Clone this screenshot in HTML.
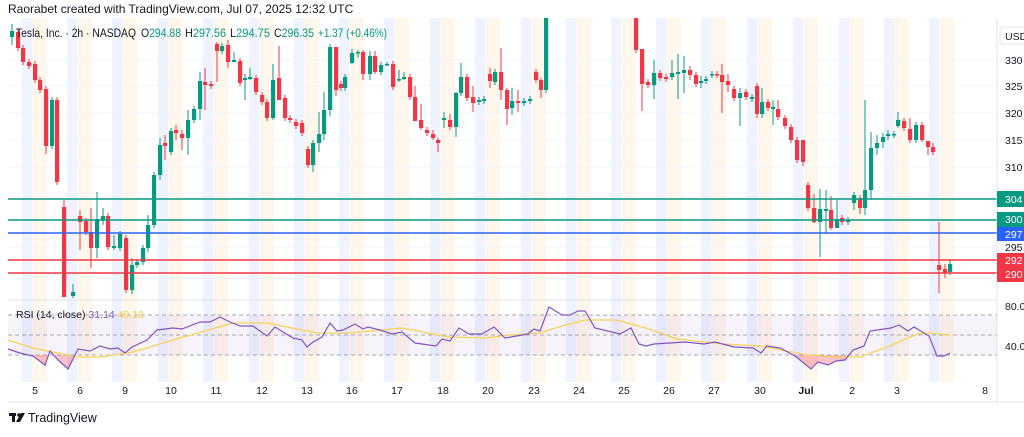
<!DOCTYPE html>
<html><head><meta charset="utf-8">
<style>
html,body{margin:0;padding:0;background:#fff;}
body{width:1024px;height:432px;overflow:hidden;font-family:"Liberation Sans",sans-serif;}
svg text{font-family:"Liberation Sans",sans-serif;}
</style></head>
<body>
<svg id="s" width="1024" height="432" viewBox="0 0 1024 432" xmlns="http://www.w3.org/2000/svg">
<rect width="1024" height="432" fill="#fff"/>
<g id="bands"></g>
<g id="grid" stroke="#f3f5fa" stroke-width="1"></g>
<rect x="8" y="315" width="989" height="40" fill="#7e57c2" opacity="0.07"/>
<g stroke="#9598a1" stroke-dasharray="4,3" stroke-width="1" opacity="0.8">
<line x1="8" y1="315" x2="997" y2="315"/><line x1="8" y1="335" x2="997" y2="335"/><line x1="8" y1="355" x2="997" y2="355"/>
</g>
<defs>
<clipPath id="pane"><rect x="8" y="18" width="989" height="282"/></clipPath>
<clipPath id="below"><rect x="0" y="355" width="1000" height="40"/></clipPath>
</defs>
<g id="candles" clip-path="url(#pane)"></g>
<g stroke-width="1.6">
<line x1="8" y1="199" x2="997" y2="199" stroke="#089981"/>
<line x1="8" y1="220" x2="997" y2="220" stroke="#089981"/>
<line x1="8" y1="233" x2="997" y2="233" stroke="#2962ff"/>
<line x1="8" y1="260" x2="997" y2="260" stroke="#f23645"/>
<line x1="8" y1="273" x2="997" y2="273" stroke="#f23645"/>
</g>
<polygon id="rsifill" clip-path="url(#below)" fill="#f23645" opacity="0.3"/>
<polyline id="ma" fill="none" stroke="#f7d25a" stroke-width="1.3"/>
<polyline id="rsi" fill="none" stroke="#7e57c2" stroke-width="1.2"/>
<line x1="8" y1="300" x2="997" y2="300" stroke="#e0e3eb"/>
<line x1="8" y1="402" x2="1024" y2="402" stroke="#e0e3eb"/>
<line x1="997" y1="18" x2="997" y2="402" stroke="#e0e3eb"/>
<text x="8" y="13" font-size="12" fill="#131722">Raorabet created with TradingView.com, Jul 07, 2025 12:32 UTC</text>
<g font-size="12" fill="#131722">
<text x="16" y="37" textLength="120" lengthAdjust="spacingAndGlyphs">Tesla, Inc. · 2h · NASDAQ</text>
<text x="141" y="37" textLength="40" lengthAdjust="spacingAndGlyphs">O<tspan fill="#089981">294.88</tspan></text>
<text x="185" y="37" textLength="41" lengthAdjust="spacingAndGlyphs">H<tspan fill="#089981">297.56</tspan></text>
<text x="230" y="37" textLength="40" lengthAdjust="spacingAndGlyphs">L<tspan fill="#089981">294.75</tspan></text>
<text x="274" y="37" textLength="40" lengthAdjust="spacingAndGlyphs">C<tspan fill="#089981">296.35</tspan></text>
<text x="318" y="37" fill="#089981" textLength="69" lengthAdjust="spacingAndGlyphs">+1.37 (+0.46%)</text>
</g>
<text x="16" y="318" font-size="10.5" fill="#131722">RSI (14, close) <tspan fill="#7e57c2">31.14</tspan> <tspan fill="#f7c948">49.18</tspan></text>
<rect x="1000" y="27" width="30" height="17" rx="3" fill="#fff" stroke="#e0e3eb"/>
<text x="1005" y="40" font-size="10.5" fill="#131722">USD</text>
<g font-size="10.5" fill="#131722">
<text x="1005" y="64">330</text><text x="1005" y="90">325</text><text x="1005" y="117">320</text>
<text x="1005" y="144">315</text><text x="1005" y="171">310</text><text x="1005" y="251">295</text>
<text x="1005" y="310">80.0</text><text x="1005" y="350">40.0</text>
</g>
<rect x="997" y="191" width="27" height="16" fill="#089981"/><text x="1005" y="203" font-size="10.5" fill="#fff">304</text>
<rect x="997" y="212" width="27" height="15" fill="#089981"/><text x="1005" y="223" font-size="10.5" fill="#fff">300</text>
<rect x="997" y="227" width="27" height="14" fill="#2962ff"/><text x="1005" y="238" font-size="10.5" fill="#fff">297</text>
<rect x="997" y="253" width="27" height="15" fill="#f23645"/><text x="1005" y="264" font-size="10.5" fill="#fff">292</text>
<rect x="997" y="267" width="27" height="15" fill="#f23645"/><text x="1005" y="278" font-size="10.5" fill="#fff">290</text>
<g font-size="10.5" fill="#131722" text-anchor="middle">
<text x="35" y="394">5</text><text x="80" y="394">6</text><text x="125" y="394">9</text><text x="171" y="394">10</text>
<text x="216" y="394">11</text><text x="262" y="394">12</text><text x="307" y="394">13</text><text x="352" y="394">16</text>
<text x="397" y="394">17</text><text x="443" y="394">18</text><text x="488" y="394">20</text><text x="534" y="394">23</text>
<text x="579" y="394">24</text><text x="624" y="394">25</text><text x="669" y="394">26</text><text x="714" y="394">27</text>
<text x="760" y="394">30</text><text x="806" y="394" font-weight="bold">Jul</text><text x="852" y="394">2</text><text x="897" y="394">3</text>
<text x="985" y="394">8</text>
</g>
<g fill="#131722">
<rect x="9" y="413" width="7" height="3"/><rect x="12" y="413" width="3" height="9"/>
<circle cx="19" cy="415" r="1.8"/><polygon points="21,413 25,413 20,422 16,422"/>
</g>
<text x="28" y="422" font-size="12.5" fill="#131722">TradingView</text>
</svg>
<script>
var NS="http://www.w3.org/2000/svg";
function el(t,a,p){var e=document.createElementNS(NS,t);for(var k in a)e.setAttribute(k,a[k]);p.appendChild(e);return e;}
var labels=[35,80,125,171,216,262,307,352,397,443,488,534,579,624,669,714,760,806,852,897,942];
var bands=document.getElementById('bands');
labels.forEach(function(x){
 el('rect',{x:x-13,y:18,width:10,height:364,fill:'#2962ff',opacity:0.08},bands);
 el('rect',{x:x-3,y:18,width:15,height:364,fill:'#ff9800',opacity:0.08},bands);
});
var grid=document.getElementById('grid');
[60,86,113,140,167,193,220,247,273].forEach(function(y){el('line',{x1:8,y1:y,x2:997,y2:y},grid);});
labels.forEach(function(x){el('line',{x1:x,y1:18,x2:x,y2:382},grid);});
var C=[
[12,31,37,'g',24,45],[18,32,48,'r'],[23,48,62,'r'],[29,62,66,'r'],[35,64,80,'r'],[40,80,90,'r'],[46,89,146,'r',86,154],[52,100,146,'g'],[57,100,182,'r'],[64,207,297,'r',200,297],[73,292,296,'g',284,298],
[80,216,222,'r',210,250],[86,221,232,'r'],[91,232,248,'r',208,268],[97,219,248,'g',192,258],[103,216,220,'g',208,225],[108,216,247,'r'],[114,246,248,'g',235,250],[120,234,248,'g'],[126,238,290,'r'],[132,265,290,'g',258,294],[137,262,265,'g'],[143,248,262,'g'],[148,225,248,'g',215,252],[154,175,225,'g'],[160,145,175,'g',138,180],
[165,143,146,'r',135,160],[171,131,152,'g'],[176,130,133,'r',125,140],[182,134,138,'r',130,150],[188,120,138,'g',110,155],[194,109,120,'g'],[200,81,109,'g',72,120],[205,82,85,'r',68,110],[211,84,86,'r'],[217,44,51,'r',42,82],[222,46,51,'g'],[228,45,62,'r',40,68],[234,60,62,'g',52,62],[240,61,83,'r'],[245,78,80,'g',74,100],[250,77,79,'g',68,80],[256,78,92,'r'],[262,95,102,'r'],[267,102,118,'r'],[273,80,118,'g',64,120],[279,78,100,'r',46,100],[285,98,118,'r'],[290,118,120,'r'],[296,122,126,'r'],[302,123,133,'r'],[308,149,165,'r'],[313,143,165,'g',140,172],[319,134,143,'g',112,152],[324,110,134,'g',92,140],[330,47,110,'g',44,116],
[336,47,90,'r',47,96],[341,84,88,'r'],[345,77,88,'g'],[352,53,63,'g',49,64],[358,52,53,'g',50,58],[363,52,74,'r',50,80],[370,56,74,'g',51,80],[375,56,72,'r',51,74],[381,65,72,'g'],[387,64,65,'g',62,66],[393,64,87,'r'],[399,79,80,'g',70,82],[404,77,79,'g',72,80],[410,77,97,'r'],[415,97,121,'r',86,112],[421,120,128,'r',104,130],[427,130,133,'r'],[433,134,138,'r',130,140],[438,140,143,'r',138,152],[444,118,120,'g',112,128],[450,120,127,'r',114,130],[456,93,127,'g',92,137],[461,77,93,'g',63,96],[467,77,98,'r'],[473,97,103,'r',86,112],[479,100,102,'g'],[484,99,101,'g'],[490,74,81,'r',68,88],[495,72,82,'g'],[501,72,90,'r',48,100],[507,90,109,'r',88,125],[512,101,108,'g',88,115],[518,101,103,'r',90,112],[524,101,103,'g'],[530,99,101,'g'],[536,72,80,'r'],[541,80,90,'r',78,98],[546,10,90,'g'],
[636,18,50,'r'],[642,49,84,'r',49,111],[648,82,85,'r'],[654,73,85,'g',60,99],[660,73,78,'r'],[666,77,79,'r'],[672,73,77,'g',60,80],[678,72,74,'g',54,99],[684,70,73,'g',56,93],[690,70,75,'r',66,80],[696,75,84,'r'],[701,81,83,'g',76,88],[706,79,81,'g'],[712,74,75,'g'],[717,74,75,'r'],[722,75,82,'r',64,113],[728,81,85,'r',74,92],[734,89,98,'r'],[740,93,98,'g',88,126],[746,92,97,'r'],[752,97,99,'g'],[757,86,114,'r',83,118],[762,102,114,'g',88,118],[768,102,108,'r'],[773,107,109,'g',100,125],[778,109,117,'r',100,120],[785,118,126,'r'],[791,127,140,'r'],[797,140,160,'r'],[803,140,162,'r',140,166],[808,185,208,'r'],[814,208,222,'r',194,223],[820,209,222,'g',189,257],[826,209,211,'g',190,234],[831,210,228,'r',196,230],[837,219,228,'g',200,227],[842,218,222,'r'],[848,220,222,'g'],[854,195,203,'g',192,210],[860,198,208,'r',195,214],[865,190,208,'g',100,215],[871,148,190,'g',132,200],[877,143,148,'g',135,155],[883,137,142,'g',133,148],[888,134,136,'g',130,140],[894,134,135,'g'],[898,120,126,'g',112,128],[904,121,128,'r'],[910,129,140,'r',118,143],[916,125,140,'g'],[922,125,140,'r',122,142],[928,141,147,'r',141,155],[933,147,152,'r',143,155],
[939,265,270,'r',222,293],[945,269,273,'r',264,278],[950,264,272,'g',259,275]
];
var cg=document.getElementById('candles');
C.forEach(function(c){
 var col=c[3]=='g'?'#089981':'#f23645';
 var wt=c.length>4?c[4]:c[1]-3, wb=c.length>5?c[5]:c[2]+3;
 el('line',{x1:c[0],y1:wt,x2:c[0],y2:wb,stroke:col,'stroke-width':1},cg);
 el('rect',{x:c[0]-2,y:c[1],width:4.2,height:Math.max(1.5,c[2]-c[1]),fill:col},cg);
});
var rsi=[[8,349],[20,353],[33,356],[45,365],[50,351],[58,360],[68,369],[78,349],[90,351],[100,346],[110,349],[118,348],[125,353],[132,347],[147,340],[157,330],[173,328],[182,329],[200,322],[210,322],[220,317],[230,322],[240,326],[253,326],[267,336],[275,327],[283,332],[293,338],[302,340],[307,347],[313,342],[322,337],[330,323],[337,331],[343,330],[355,324],[363,329],[368,327],[380,330],[392,334],[402,332],[415,343],[436,346],[442,339],[450,341],[459,328],[469,334],[482,334],[494,327],[505,338],[528,334],[534,329],[540,331],[549,307],[562,315],[570,315],[578,311],[585,311],[595,328],[620,334],[631,328],[639,344],[646,346],[654,344],[685,342],[704,344],[715,342],[734,347],[753,348],[761,353],[767,346],[780,348],[795,356],[811,369],[818,362],[828,365],[836,361],[845,360],[853,350],[864,346],[870,331],[891,328],[899,325],[908,331],[914,327],[929,336],[937,356],[944,356],[950,353]];
var ma=[[8,340],[33,348],[77,357],[100,357],[133,352],[173,340],[233,323],[267,323],[317,333],[350,333],[402,328],[448,337],[486,338],[509,335],[540,333],[562,326],[585,320],[616,320],[646,328],[677,339],[723,344],[761,346],[807,355],[837,357],[860,357],[887,347],[917,334],[929,333],[950,335]];
function pts(a){return a.map(function(p){return p.join(',');}).join(' ');}
document.getElementById('rsi').setAttribute('points',pts(rsi));
document.getElementById('ma').setAttribute('points',pts(ma));
document.getElementById('rsifill').setAttribute('points','8,355 '+pts(rsi)+' 950,355');
</script>
</body></html>
